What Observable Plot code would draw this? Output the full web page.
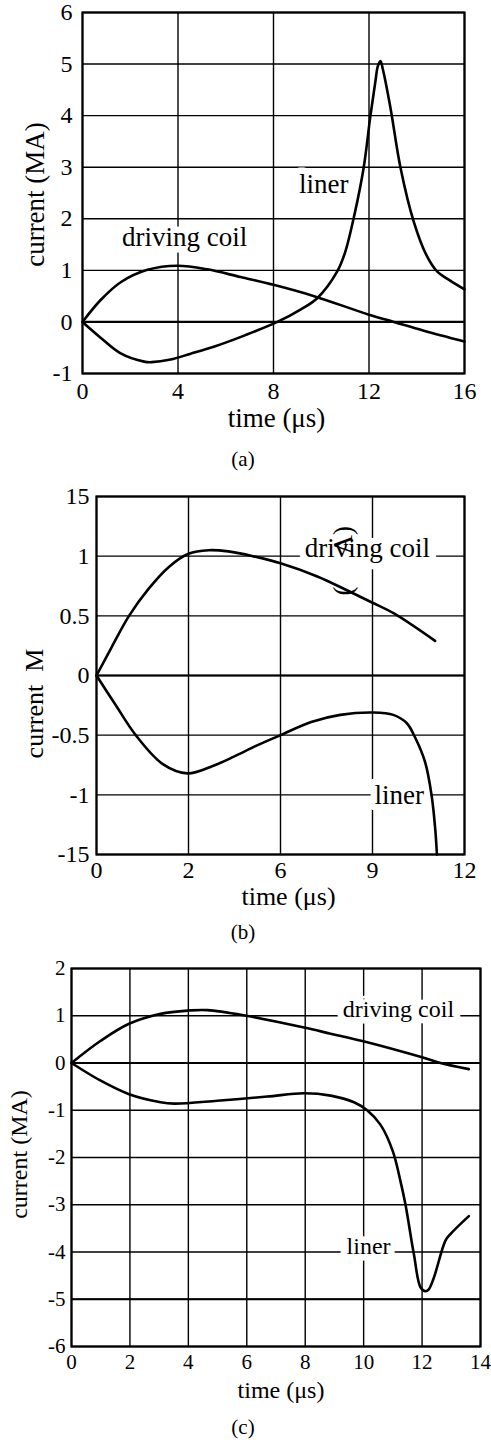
<!DOCTYPE html>
<html>
<head>
<meta charset="utf-8">
<script src="https://cdn.jsdelivr.net/npm/d3@7"></script>
<script src="https://cdn.jsdelivr.net/npm/@observablehq/plot@0.6"></script>
<style>
  html, body { margin: 0; padding: 0; background: #fff; }
  #root { position: relative; width: 491px; height: 1455px; font-family: "Liberation Serif", "Times New Roman", serif; color: #000; }
  #root svg text { font-family: "Liberation Serif", "Times New Roman", serif; }
  .panel { position: absolute; left: 0; }
  .panel svg { overflow: visible; }
  .cap { position: absolute; left: 0; width: 486px; text-align: center; font-size: 21px; line-height: 24px; font-family: "Liberation Serif", serif; }
</style>
</head>
<body>
<div id="root"></div>
<script>
// ---------- Panel (a) ----------
const timeCoilA    = [0, 0.77, 1.6, 2.72, 3.97, 5.23, 6.62, 8, 9.7, 12, 13.04, 14.3, 16];
const currentCoilA = [0, 0.43, 0.77, 1.01, 1.09, 1.02, 0.87, 0.72, 0.5, 0.14, 0, -0.17, -0.38];
const timeLinerA    = [0, 0.77, 1.6, 2.58, 2.9, 3.69, 4.5, 5.5, 6.8, 8.16, 9.13, 9.83, 10.67, 11.0, 11.4, 11.78, 12.06, 12.27, 12.37, 12.48, 12.58, 12.9, 13.32, 13.87, 14.4, 14.85, 15.4, 16];
const currentLinerA = [0, -0.31, -0.61, -0.77, -0.78, -0.73, -0.62, -0.48, -0.26, 0, 0.24, 0.46, 0.98, 1.35, 2.1, 3.0, 4.0, 4.67, 4.96, 5.06, 4.9, 4.15, 2.99, 1.95, 1.3, 0.98, 0.8, 0.63];
const xTicksA = [0, 4, 8, 12, 16];
const xTickLabelsA = ["0", "4", "8", "12", "16"];
const yTicksA = [-1, 0, 1, 2, 3, 4, 5, 6];
const yTickLabelsA = ["-1", "0", "1", "2", "3", "4", "5", "6"];
const annotA = [
  {t: 4.28, v: 1.47, label: "driving coil"},
  {t: 10.1, v: 2.5, label: "liner"}
];

// ---------- Panel (b) ----------
const timeCoilB    = [0, 0.5, 1.06, 1.71, 2.36, 3.0, 3.66, 4.3, 5.1, 6.0, 7.2, 8.2, 9.0, 9.7, 11.04];
const currentCoilB = [0, 0.24, 0.5, 0.73, 0.91, 1.02, 1.05, 1.04, 1.0, 0.94, 0.83, 0.71, 0.61, 0.52, 0.29];
const timeLinerB    = [0, 0.63, 1.28, 2.15, 2.97, 3.77, 4.48, 5.2, 6.0, 7.0, 7.95, 9.03, 9.68, 10.12, 10.39, 10.72, 10.93, 11.05, 11.1];
const currentLinerB = [0, -0.25, -0.5, -0.74, -0.82, -0.76, -0.68, -0.59, -0.5, -0.39, -0.33, -0.31, -0.33, -0.4, -0.52, -0.73, -1.01, -1.3, -1.5];
const xTicksB = [0, 3, 6, 9, 12];
const xTickLabelsB = ["0", "2", "6", "9", "12"];
const yTicksB = [-1.5, -1, -0.5, 0, 0.5, 1, 1.5];
const yTickLabelsB = ["-15", "-1", "-0.5", "0", "0.5", "1", "15"];
const annotB = [
  {t: 8.83, v: 0.99, label: "driving coil"},
  {t: 9.87, v: -1.08, label: "liner"}
];
const strayB = [
  {t: 8.34, v: 0.67, label: "("},
  {t: 8.34, v: 1.015, label: "A)"}
];

// ---------- Panel (c) ----------
const timeCoilC    = [0, 1.0, 1.97, 3.05, 4.02, 4.65, 5.98, 7.96, 8.87, 9.99, 12.0, 12.63, 13.6];
const currentCoilC = [0, 0.47, 0.83, 1.04, 1.11, 1.12, 1.0, 0.75, 0.62, 0.46, 0.12, 0, -0.13];
const timeLinerC    = [0, 1.0, 1.97, 3.05, 3.51, 4.99, 6.7, 7.96, 8.87, 9.67, 10.12, 10.58, 11.0, 11.26, 11.43, 11.72, 11.95, 12.12, 12.23, 12.4, 12.8, 12.97, 13.6];
const currentLinerC = [0, -0.375, -0.66, -0.83, -0.86, -0.8, -0.71, -0.64, -0.69, -0.83, -1.0, -1.31, -1.87, -2.5, -2.99, -4.05, -4.75, -4.83, -4.79, -4.55, -3.76, -3.62, -3.24];
const xTicksC = [0, 2, 4, 6, 8, 10, 12, 14];
const xTickLabelsC = ["0", "2", "4", "6", "8", "10", "12", "14"];
const yTicksC = [-6, -5, -4, -3, -2, -1, 0, 1, 2];
const yTickLabelsC = ["-6", "-5", "-4", "-3", "-2", "-1", "0", "1", "2"];
const annotC = [
  {t: 11.19, v: 0.97, label: "driving coil"},
  {t: 10.17, v: -4.04, label: "liner"}
];

const xTitle = "time (\u03bcs)";
const yTitleA = "current (MA)";
const yTitleB = "current\u00a0\u00a0M";
const yTitleC = "current (MA)";

function series(ts, vs) { return ts.map((t, i) => ({t, v: vs[i]})); }
function fmt(ticks, labels) { const m = new Map(ticks.map((d, i) => [d, labels[i]])); return d => m.get(d); }

function makePanel(c) {
  const font = "Liberation Serif";
  const marks = [
    Plot.gridX(c.xTicks, {stroke: "black", strokeOpacity: 1, strokeWidth: 1.4}),
    Plot.gridY(c.yTicks, {stroke: "black", strokeOpacity: 1, strokeWidth: 1.4}),
    Plot.ruleY(c.thick, {stroke: "black", strokeWidth: 2.2}),
    Plot.text(c.annot, {x: "t", y: "v", text: "label", fontSize: c.annSize, fontFamily: font,
      textAnchor: "middle", lineAnchor: "bottom", fill: "black", stroke: "white", strokeWidth: 13, paintOrder: "stroke"}),
    ...(c.stray ? [Plot.text(c.stray, {x: "t", y: "v", text: "label", fontSize: c.annSize, fontFamily: font,
      rotate: -90, textAnchor: "start", lineAnchor: "bottom", fill: "black"})] : []),
    Plot.frame({stroke: "black", strokeWidth: 2.2}),
    Plot.line(series(c.tc, c.vc), {x: "t", y: "v", stroke: "black", strokeWidth: 2.6, curve: "catmull-rom"}),
    Plot.line(series(c.tl, c.vl), {x: "t", y: "v", stroke: "black", strokeWidth: 2.6, curve: "catmull-rom"}),
    Plot.axisX(c.xTicks, {tickSize: 0, tickPadding: c.xPad, tickFormat: fmt(c.xTicks, c.xLabels), fontSize: c.tickSize, fontFamily: font, label: null}),
    Plot.axisY(c.yTicks, {tickSize: 0, tickPadding: c.yPad, tickFormat: fmt(c.yTicks, c.yLabels), fontSize: c.tickSize, fontFamily: font, label: null}),
    Plot.text([c.xTitle], {frameAnchor: "bottom", dx: c.xTitleDx, dy: c.xTitleDy, text: d => d, fontSize: c.titleSize, fontFamily: font, lineAnchor: "bottom", textAnchor: "middle", fill: "black"}),
    Plot.text([c.yTitle], {frameAnchor: "left", dx: c.yTitleDx, dy: c.yTitleDy, text: d => d, rotate: -90, fontSize: c.titleSize, fontFamily: font, lineAnchor: "bottom", textAnchor: "middle", fill: "black"})
  ];
  const svg = Plot.plot({
    width: 491, height: c.height,
    marginLeft: c.ml, marginRight: c.mr, marginTop: c.mt, marginBottom: c.mb,
    x: {domain: c.xDomain, label: null},
    y: {domain: c.yDomain, label: null},
    style: {fontFamily: '"Liberation Serif", serif', fontSize: c.tickSize + "px", color: "black", background: "white", overflow: "visible"},
    marks
  });
  const div = document.createElement("div");
  div.className = "panel";
  div.style.top = c.top + "px";
  div.appendChild(svg);
  return div;
}

const root = document.getElementById("root");

root.appendChild(makePanel({
  top: 0, height: 440, ml: 82, mr: 27, mt: 12, mb: 67,
  xDomain: [0, 16], yDomain: [-1, 6],
  xTicks: xTicksA, xLabels: xTickLabelsA, yTicks: yTicksA, yLabels: yTickLabelsA,
  tc: timeCoilA, vc: currentCoilA, tl: timeLinerA, vl: currentLinerA,
  annot: annotA, thick: [0],
  tickSize: 24, titleSize: 27, annSize: 27, xPad: 8, yPad: 10,
  xTitle: xTitle, xTitleDx: 3, xTitleDy: 53,
  yTitle: yTitleA, yTitleDx: -39, yTitleDy: 1.5
}));

root.appendChild(makePanel({
  top: 440, height: 480, ml: 96, mr: 27, mt: 56, mb: 66,
  xDomain: [0, 12], yDomain: [-1.5, 1.5],
  xTicks: xTicksB, xLabels: xTickLabelsB, yTicks: yTicksB, yLabels: yTickLabelsB,
  tc: timeCoilB, vc: currentCoilB, tl: timeLinerB, vl: currentLinerB,
  annot: annotB, stray: strayB, thick: [0],
  tickSize: 24, titleSize: 26, annSize: 27, xPad: 6, yPad: 7,
  xTitle: xTitle, xTitleDx: 8, xTitleDy: 50,
  yTitle: yTitleB, yTitleDx: -54, yTitleDy: 28
}));

root.appendChild(makePanel({
  top: 920, height: 535, ml: 71, mr: 11, mt: 48, mb: 109,
  xDomain: [0, 14], yDomain: [-6, 2],
  xTicks: xTicksC, xLabels: xTickLabelsC, yTicks: yTicksC, yLabels: yTickLabelsC,
  tc: timeCoilC, vc: currentCoilC, tl: timeLinerC, vl: currentLinerC,
  annot: annotC, thick: [0, -5],
  tickSize: 21, titleSize: 24, annSize: 24, xPad: 8, yPad: 6,
  xTitle: xTitle, xTitleDx: 5, xTitleDy: 51,
  yTitle: yTitleC, yTitleDx: -45, yTitleDy: -3
}));

const captions = [
  {text: "(a)", y: 460},
  {text: "(b)", y: 933},
  {text: "(c)", y: 1428}
];
for (const c of captions) {
  const d = document.createElement("div");
  d.className = "cap";
  d.style.top = (c.y - 13) + "px";
  d.textContent = c.text;
  root.appendChild(d);
}
</script>
</body>
</html>
